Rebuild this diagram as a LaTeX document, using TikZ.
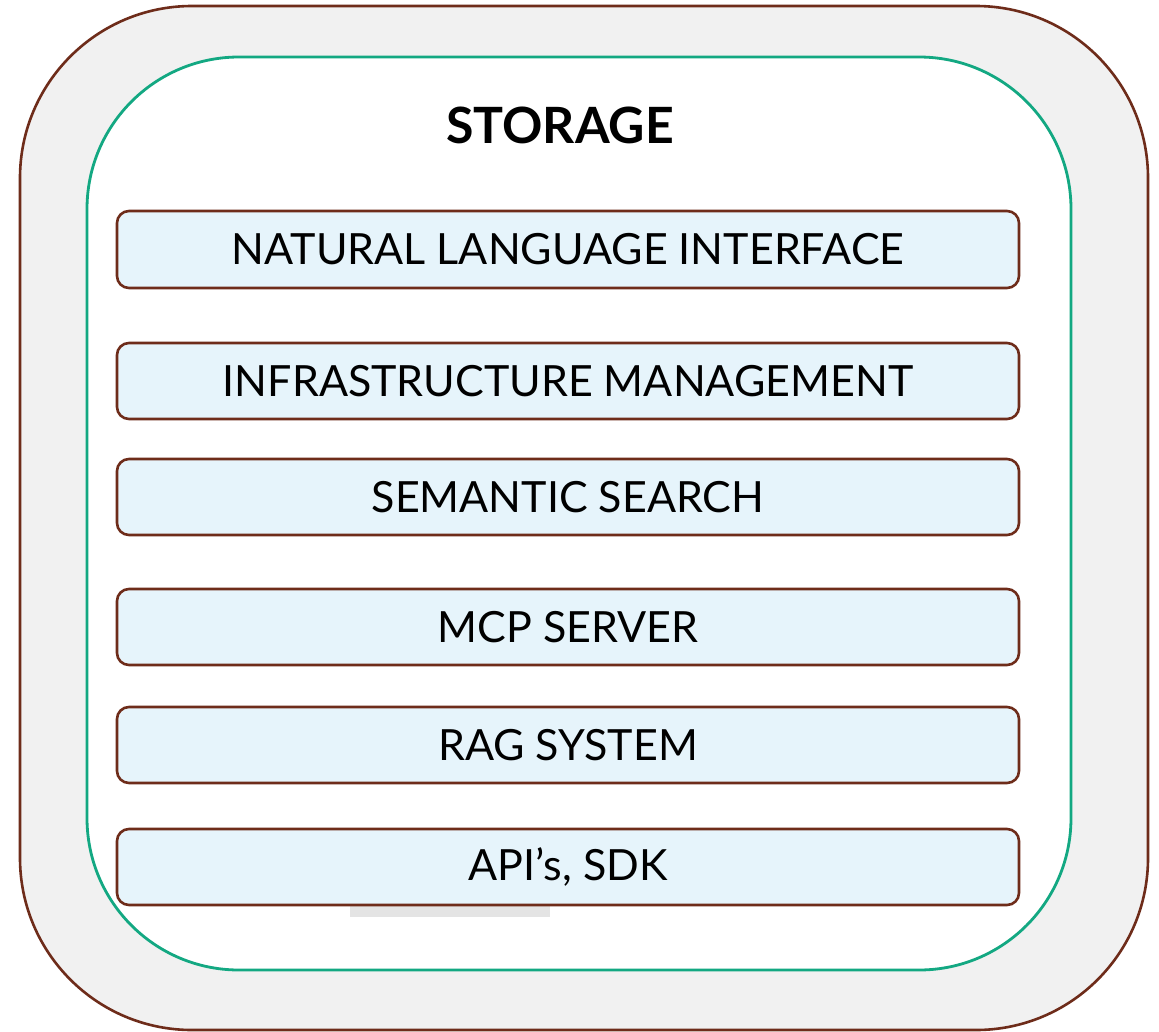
\documentclass[tikz,border=0pt]{standalone}
\usepackage{fontspec}
\setmainfont{Lato}
\definecolor{rimbrown}{HTML}{6E2C1A}
\definecolor{rimfill}{HTML}{F1F1F1}
\definecolor{coregreen}{HTML}{13A882}
\definecolor{layerfill}{HTML}{E6F4FB}
\definecolor{shelfgray}{HTML}{E4E4E4}
\tikzset{
  layer/.style={draw=rimbrown, line width=2.6pt, fill=layerfill, rounded corners=12pt},
  layertext/.style={font=\fontsize{43}{50}\selectfont, text=black, anchor=center},
}
\begin{document}
\begin{tikzpicture}[x=1pt,y=-1pt]
\useasboundingbox (0,0) rectangle (1159,1031);
\fill[white] (0,0) rectangle (1159,1031);
% outer shell
\draw[draw=rimbrown, line width=2.6pt, fill=rimfill, rounded corners=172pt]
  (20,6) rectangle (1148,1030);
% storage core
\draw[draw=coregreen, line width=2.8pt, fill=white, rounded corners=152pt]
  (87,57) rectangle (1071,970);
\node[font=\fontsize{50}{58}\bfseries\selectfont] (title) at (560,125) {STORAGE};
% small shelf below the lowest layer
\fill[shelfgray] (350,906) rectangle (550,917);
% stacked layers
\foreach \name/\top/\bot/\txt in {
  nli/211/288/NATURAL LANGUAGE INTERFACE,
  infra/343/419/INFRASTRUCTURE MANAGEMENT,
  sem/459/535/SEMANTIC SEARCH,
  mcp/589/665/MCP SERVER,
  rag/707/783/RAG SYSTEM,
  api/829/905/API’s{,} SDK}{
  \draw[layer] (117,\top) rectangle (1019,\bot);
  \node[layertext] (\name) at (568,{(\top+\bot)/2}) {\txt};
}
\end{tikzpicture}
\end{document}
